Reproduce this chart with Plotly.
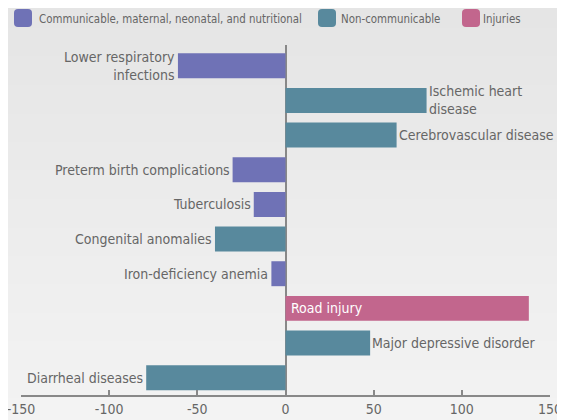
import plotly.graph_objects as go

# causes, top to bottom
causes = ['Lower respiratory<br>infections', 'Ischemic heart<br>disease', 'Cerebrovascular disease',
          'Preterm birth complications', 'Tuberculosis', 'Congenital anomalies',
          'Iron-deficiency anemia', 'Road injury', 'Major depressive disorder', 'Diarrheal diseases']
values = [-61, 80, 63, -30, -18, -40, -8, 138, 48, -79]
groups = ['comm', 'ncd', 'ncd', 'comm', 'comm', 'ncd', 'comm', 'inj', 'ncd', 'ncd']

tick_vals = [-150, -100, -50, 0, 50, 100, 150]
tick_text = ['-150', '-100', '-50', '0', '50', '100', '150']

group_order = ['comm', 'ncd', 'inj']
group_names = {'comm': 'Communicable, maternal, neonatal, and nutritional',
               'ncd': 'Non-communicable',
               'inj': 'Injuries'}
group_colors = {'comm': 'rgb(111,114,182)', 'ncd': 'rgb(88,137,157)', 'inj': 'rgb(194,102,141)'}

font_family = 'DejaVu Sans Condensed, Liberation Sans Narrow, Arial Narrow, sans-serif'
text_color = '#666666'

# the page body adds an 8px offset, so the figure is laid out in page pixels minus OFF
OFF = 8
W, H = 565, 420
ml, mr, mt, mb = 21 - OFF, 15 + OFF, 45 - OFF, 25 + OFF
pw, ph = W - ml - mr, H - mt - mb


def px_x(px):
    # screenshot pixel -> paper fraction
    return (px - OFF - ml) / pw


def px_y(py):
    return (H - mb - (py - OFF)) / ph


fig = go.Figure()
for g in group_order:
    idx = [i for i in range(len(causes)) if groups[i] == g]
    fig.add_trace(go.Bar(
        x=[values[i] for i in idx],
        y=idx,
        orientation='h',
        name=group_names[g],
        marker=dict(color=group_colors[g], line=dict(width=0)),
        width=0.72,
        hoverinfo='skip'
    ))

annotations = []
for i, (c, v) in enumerate(zip(causes, values)):
    if groups[i] == 'inj':
        # label sits inside the bar
        annotations.append(dict(x=0, y=i, text=c, xanchor='left', xshift=3, showarrow=False,
                                font=dict(color='white', size=14, family=font_family)))
    elif v < 0:
        annotations.append(dict(x=v, y=i, text=c, xanchor='right', xshift=-1, align='right',
                                showarrow=False, font=dict(color=text_color, size=14, family=font_family)))
    else:
        annotations.append(dict(x=v, y=i, text=c, xanchor='left', xshift=0, align='left',
                                showarrow=False, font=dict(color=text_color, size=14, family=font_family)))

# background gradient (light grey, darker at the top)
shapes = []
n_bands = 30
for k in range(n_bands):
    t = k / (n_bands - 1)
    c = int(round(0xe5 + (0xf3 - 0xe5) * t))
    shapes.append(dict(type='rect', xref='paper', yref='paper', layer='below',
                       x0=px_x(0), x1=px_x(W + OFF),
                       y0=px_y((H + OFF) * (k + 1) / n_bands), y1=px_y((H + OFF) * k / n_bands - 1),
                       fillcolor='rgb(%d,%d,%d)' % (c, c, c), line=dict(width=0)))

# manual legend row
legend_px = [(14, 37), (318, 339), (462, 481)]
for g, (sx, tx) in zip(group_order, legend_px):
    x0, x1 = px_x(sx), px_x(sx + 18)
    y0, y1 = px_y(27), px_y(9)
    rx, ry = 4 / pw, 4 / ph
    path = ('M %f,%f L %f,%f Q %f,%f %f,%f L %f,%f Q %f,%f %f,%f L %f,%f Q %f,%f %f,%f L %f,%f Q %f,%f %f,%f Z'
            % (x0 + rx, y0, x1 - rx, y0, x1, y0, x1, y0 + ry, x1, y1 - ry, x1, y1, x1 - rx, y1,
               x0 + rx, y1, x0, y1, x0, y1 - ry, x0, y0 + ry, x0, y0, x0 + rx, y0))
    shapes.append(dict(type='path', xref='paper', yref='paper', path=path,
                       fillcolor=group_colors[g], line=dict(width=0)))
    annotations.append(dict(xref='paper', yref='paper', x=px_x(tx), y=px_y(18.5), text=group_names[g],
                            xanchor='left', yanchor='middle', showarrow=False,
                            font=dict(color=text_color, size=11.4, family=font_family)))

fig.update_layout(
    width=W, height=H,
    margin=dict(l=ml, r=mr, t=mt, b=mb),
    paper_bgcolor='#ececec', plot_bgcolor='rgba(0,0,0,0)',
    barmode='relative',
    font=dict(family=font_family, color=text_color, size=14),
    showlegend=False,
    annotations=annotations,
    shapes=shapes,
    xaxis=dict(range=[-150, 150], tickvals=tick_vals, ticktext=tick_text,
               showgrid=False, zeroline=True, zerolinecolor='#888888', zerolinewidth=2,
               showline=True, linecolor='#888888', linewidth=1.5,
               ticks='inside', ticklen=5, tickcolor='#888888', tickwidth=1.5,
               tickfont=dict(size=14, color=text_color), automargin=False,
               ticklabeloverflow='allow'),
    yaxis=dict(range=[9.5, -0.6], showgrid=False, zeroline=False, showticklabels=False,
               showline=False, automargin=False)
)

fig.write_html('out.html')
